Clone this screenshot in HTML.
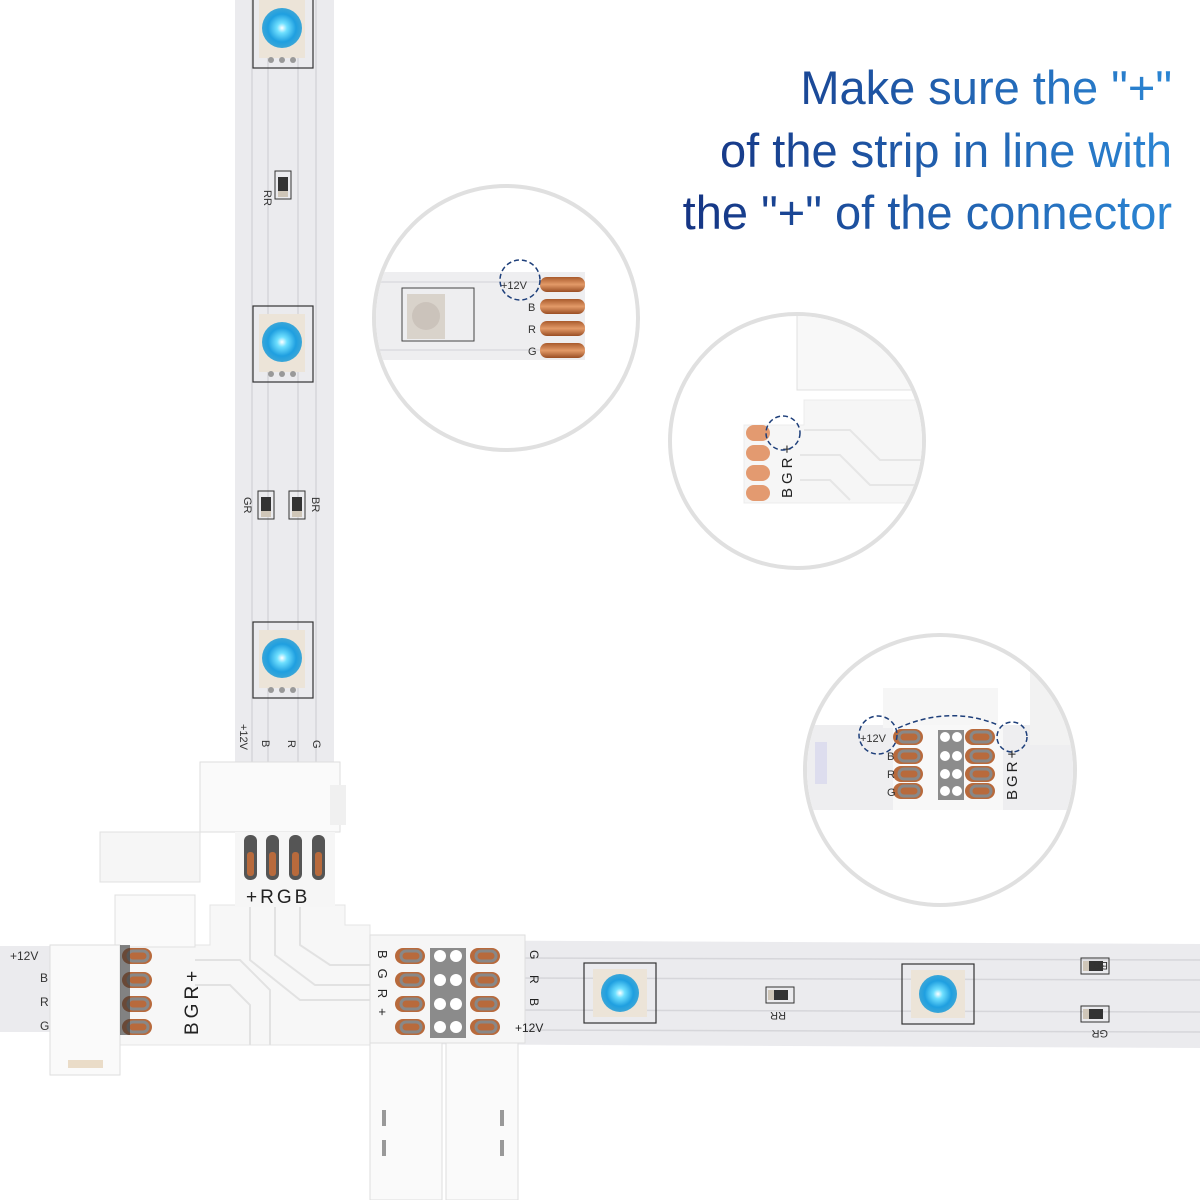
<!DOCTYPE html>
<html><head><meta charset="utf-8"><style>
html,body{margin:0;padding:0;background:#fff;width:1200px;height:1200px;overflow:hidden}
svg{display:block}
</style></head><body>
<svg width="1200" height="1200" viewBox="0 0 1200 1200" xmlns="http://www.w3.org/2000/svg" font-family="Liberation Sans, sans-serif">
<defs>
<linearGradient id="tg" x1="660" y1="0" x2="1175" y2="0" gradientUnits="userSpaceOnUse">
<stop offset="0" stop-color="#14307f"/><stop offset="1" stop-color="#2b86d4"/></linearGradient>
<radialGradient id="glow"><stop offset="0" stop-color="#ffffff"/><stop offset="0.25" stop-color="#6fe0ff"/><stop offset="0.7" stop-color="#1f9fe0"/><stop offset="1" stop-color="#3aa6d8"/></radialGradient>
<linearGradient id="cu" x1="0" y1="0" x2="0" y2="1"><stop offset="0" stop-color="#a85a2c"/><stop offset="0.5" stop-color="#e39a68"/><stop offset="1" stop-color="#9a4e24"/></linearGradient>
<g id="led">
<rect x="-30" y="-38" width="60" height="76" fill="none" stroke="#333" stroke-width="1.2"/>
<rect x="-24" y="-30" width="46" height="58" fill="#ece4d8"/>
<circle cx="-1" cy="-2" r="20" fill="url(#glow)"/>
<circle cx="-12" cy="30" r="3" fill="#999"/><circle cx="-1" cy="30" r="3" fill="#999"/><circle cx="10" cy="30" r="3" fill="#999"/>
</g>
<g id="ledh">
<rect x="-36" y="-30" width="72" height="60" fill="none" stroke="#333" stroke-width="1.2"/>
<rect x="-27" y="-24" width="54" height="48" fill="#ece4d8"/>
<circle cx="0" cy="0" r="19" fill="url(#glow)"/>
</g>
<g id="res"><rect x="-8" y="-14" width="16" height="28" fill="none" stroke="#333" stroke-width="1"/><rect x="-5" y="-8" width="10" height="16" fill="#333"/><rect x="-5" y="6" width="10" height="6" fill="#cfc6b8"/></g>
<g id="pin"><rect x="0" y="-8" width="30" height="16" rx="8" fill="#b86a3c"/><rect x="6" y="-5" width="20" height="10" rx="5" fill="none" stroke="#888" stroke-width="3"/></g>
</defs>

<!-- Vertical strip -->
<rect x="235" y="0" width="99" height="765" fill="#ebebee"/>
<g stroke="#d6d6da" stroke-width="1.5" fill="none">
<line x1="252" y1="0" x2="252" y2="765"/><line x1="268" y1="0" x2="268" y2="765"/><line x1="298" y1="0" x2="298" y2="765"/><line x1="316" y1="0" x2="316" y2="765"/>
</g>
<use href="#led" x="283" y="30"/>
<use href="#led" x="283" y="344"/>
<use href="#led" x="283" y="660"/>
<use href="#res" x="283" y="185"/>
<use href="#res" x="266" y="505"/><use href="#res" x="297" y="505"/>
<text x="0" y="0" font-size="11" fill="#333" transform="translate(264,190) rotate(90)">RR</text>
<text x="0" y="0" font-size="11" fill="#333" transform="translate(244,497) rotate(90)">GR</text>
<text x="0" y="0" font-size="11" fill="#333" transform="translate(312,497) rotate(90)">BR</text>
<g font-size="11" fill="#333">
<text transform="translate(240,724) rotate(90)">+12V</text>
<text transform="translate(262,740) rotate(90)">B</text>
<text transform="translate(288,740) rotate(90)">R</text>
<text transform="translate(313,740) rotate(90)">G</text>
</g>

<!-- Horizontal strips -->
<rect x="0" y="946" width="60" height="86" fill="#ebebee"/>
<g font-size="12" fill="#333"><text x="10" y="960">+12V</text><text x="40" y="982">B</text><text x="40" y="1006">R</text><text x="40" y="1030">G</text></g>
<polygon points="370,940 1200,944 1200,1048 370,1044" fill="#ebebee"/>
<g stroke="#d6d6da" stroke-width="1.5"><line x1="520" y1="958" x2="1200" y2="960"/><line x1="520" y1="978" x2="1200" y2="980"/><line x1="520" y1="1010" x2="1200" y2="1012"/><line x1="520" y1="1030" x2="1200" y2="1032"/></g>
<use href="#ledh" x="620" y="993"/>
<use href="#ledh" x="938" y="994"/>
<g transform="translate(780,995) rotate(90)"><use href="#res"/></g>
<g transform="translate(1095,966) rotate(90)"><use href="#res"/></g>
<g transform="translate(1095,1014) rotate(90)"><use href="#res"/></g>
<text font-size="11" fill="#333" transform="translate(786,1012) rotate(180)">RR</text>
<text font-size="11" fill="#333" transform="translate(1108,962) rotate(180)">BR</text>
<text font-size="11" fill="#333" transform="translate(1108,1030) rotate(180)">GR</text>

<!-- T connector body -->
<polygon points="210,905 345,905 345,925 370,925 370,945 370,1045 120,1045 120,945 210,945" fill="#f7f7f7" stroke="#e4e4e4"/>
<g stroke="#e2e2e2" stroke-width="2" fill="none">
<path d="M250,905 V960 L300,1000 H370"/><path d="M275,905 V955 L315,985 H370"/><path d="M300,905 V945 L330,965 H370"/>
<path d="M195,960 H240 L270,990 V1045"/><path d="M195,985 H230 L250,1005 V1045"/>
</g>
<!-- top connector housing -->
<rect x="200" y="762" width="140" height="70" fill="#fafafa" stroke="#dedede"/>
<rect x="330" y="785" width="16" height="40" fill="#f0f0f0"/>
<rect x="235" y="832" width="100" height="75" fill="#f6f6f6"/>
<g fill="#555"><rect x="244" y="835" width="13" height="45" rx="6"/><rect x="266" y="835" width="13" height="45" rx="6"/><rect x="289" y="835" width="13" height="45" rx="6"/><rect x="312" y="835" width="13" height="45" rx="6"/></g>
<g fill="#b86a3c"><rect x="247" y="852" width="7" height="24" rx="3"/><rect x="269" y="852" width="7" height="24" rx="3"/><rect x="292" y="852" width="7" height="24" rx="3"/><rect x="315" y="852" width="7" height="24" rx="3"/></g>
<text x="246" y="903" font-size="19" fill="#222" letter-spacing="3">+RGB</text>
<!-- side small piece -->
<rect x="100" y="832" width="100" height="50" fill="#f6f6f6" stroke="#e0e0e0"/>
<rect x="115" y="895" width="80" height="52" fill="#fafafa" stroke="#e0e0e0"/>
<!-- left connector -->
<rect x="50" y="945" width="70" height="130" fill="#fafafa" stroke="#dedede"/>
<rect x="68" y="1060" width="35" height="8" fill="#eadcc8"/>
<g><use href="#pin" x="122" y="956"/><use href="#pin" x="122" y="980"/><use href="#pin" x="122" y="1004"/><use href="#pin" x="122" y="1027"/></g>
<rect x="120" y="945" width="10" height="90" fill="#333" opacity="0.6"/>
<text font-size="19" fill="#222" letter-spacing="4" transform="translate(198,1035) rotate(-90)">BGR+</text>
<!-- right connector -->
<rect x="370" y="935" width="155" height="108" fill="#f6f6f6" stroke="#dedede"/>
<g><use href="#pin" x="395" y="956"/><use href="#pin" x="395" y="980"/><use href="#pin" x="395" y="1004"/><use href="#pin" x="395" y="1027"/>
<use href="#pin" x="470" y="956"/><use href="#pin" x="470" y="980"/><use href="#pin" x="470" y="1004"/><use href="#pin" x="470" y="1027"/></g>
<g fill="#333"><rect x="430" y="948" width="36" height="90" opacity="0.55"/></g>
<g fill="#fff"><circle cx="440" cy="956" r="6"/><circle cx="456" cy="956" r="6"/><circle cx="440" cy="980" r="6"/><circle cx="456" cy="980" r="6"/><circle cx="440" cy="1004" r="6"/><circle cx="456" cy="1004" r="6"/><circle cx="440" cy="1027" r="6"/><circle cx="456" cy="1027" r="6"/></g>
<text font-size="13" fill="#222" letter-spacing="10" transform="translate(378,950) rotate(90)">BGR+</text>
<text font-size="12" fill="#222" transform="translate(530,950) rotate(90)">G</text>
<text font-size="12" fill="#222" transform="translate(530,975) rotate(90)">R</text>
<text font-size="12" fill="#222" transform="translate(530,998) rotate(90)">B</text>
<text font-size="12" fill="#222" x="515" y="1032">+12V</text>
<rect x="370" y="1043" width="72" height="157" fill="#fafafa" stroke="#dedede"/>
<rect x="446" y="1043" width="72" height="157" fill="#fafafa" stroke="#dedede"/>
<g fill="#999"><rect x="382" y="1110" width="4" height="16"/><rect x="382" y="1140" width="4" height="16"/><rect x="500" y="1110" width="4" height="16"/><rect x="500" y="1140" width="4" height="16"/></g>

<!-- Title -->
<g fill="url(#tg)" font-size="47" text-anchor="end">
<text x="1172" y="104">Make sure the "+"</text>
<text x="1172" y="167">of the strip in line with</text>
<text x="1172" y="229">the "+" of the connector</text>
</g>

<!-- Circle 1 -->
<circle cx="506" cy="318" r="132" fill="#fff" stroke="#e0e0e0" stroke-width="4"/>
<clipPath id="c1"><circle cx="506" cy="318" r="130"/></clipPath>
<g clip-path="url(#c1)">
<rect x="370" y="272" width="215" height="88" fill="#eeeef0"/>
<g stroke="#dcdcdf" stroke-width="1.5"><line x1="370" y1="282" x2="540" y2="282"/><line x1="370" y1="350" x2="540" y2="350"/></g>
<rect x="402" y="288" width="72" height="53" fill="none" stroke="#444" stroke-width="1"/>
<rect x="407" y="294" width="38" height="45" fill="#d9d3cb"/>
<circle cx="426" cy="316" r="14" fill="#cbc3bb"/>
<g fill="url(#cu)"><rect x="540" y="277" width="45" height="15" rx="7"/><rect x="540" y="299" width="45" height="15" rx="7"/><rect x="540" y="321" width="45" height="15" rx="7"/><rect x="540" y="343" width="45" height="15" rx="7"/></g>
<g font-size="11" fill="#333"><text x="501" y="289">+12V</text><text x="528" y="311">B</text><text x="528" y="333">R</text><text x="528" y="355">G</text></g>
<circle cx="520" cy="280" r="20" fill="none" stroke="#1e3f7a" stroke-width="1.5" stroke-dasharray="5,3"/>
</g>

<!-- Circle 2 -->
<circle cx="797" cy="441" r="127" fill="#fff" stroke="#e0e0e0" stroke-width="4"/>
<clipPath id="c2"><circle cx="797" cy="441" r="125"/></clipPath>
<g clip-path="url(#c2)">
<rect x="797" y="310" width="140" height="80" fill="#f8f8f8" stroke="#e0e0e0"/>
<polygon points="804,400 940,400 940,503 744,503 744,425 804,425" fill="#f6f6f6" stroke="#ececec"/>
<g stroke="#e6e6e6" stroke-width="2" fill="none"><path d="M804,430 H850 L880,460 H940"/><path d="M800,455 H840 L870,485 H940"/><path d="M800,480 H830 L850,500"/></g>
<g fill="#e39a70"><rect x="746" y="425" width="24" height="16" rx="8"/><rect x="746" y="445" width="24" height="16" rx="8"/><rect x="746" y="465" width="24" height="16" rx="8"/><rect x="746" y="485" width="24" height="16" rx="8"/></g>
<text font-size="15" fill="#222" letter-spacing="4" transform="translate(792,498) rotate(-90)">BGR+</text>
<circle cx="783" cy="433" r="17" fill="none" stroke="#1e3f7a" stroke-width="1.5" stroke-dasharray="5,3"/>
</g>

<!-- Circle 3 -->
<circle cx="940" cy="770" r="135" fill="#fff" stroke="#e0e0e0" stroke-width="4"/>
<clipPath id="c3"><circle cx="940" cy="770" r="133"/></clipPath>
<g clip-path="url(#c3)">
<rect x="800" y="725" width="280" height="85" fill="#eeeef0"/>
<rect x="1030" y="655" width="60" height="90" fill="#f2f2f2"/>
<rect x="883" y="688" width="65" height="40" fill="#f6f6f6"/><rect x="948" y="688" width="50" height="40" fill="#f6f6f6"/>
<rect x="893" y="725" width="110" height="85" fill="#f8f8f8"/>
<rect x="815" y="742" width="12" height="42" fill="#dde"/>
<g><use href="#pin" x="893" y="737"/><use href="#pin" x="893" y="756"/><use href="#pin" x="893" y="774"/><use href="#pin" x="893" y="791"/>
<use href="#pin" x="965" y="737"/><use href="#pin" x="965" y="756"/><use href="#pin" x="965" y="774"/><use href="#pin" x="965" y="791"/></g>
<rect x="938" y="730" width="26" height="70" fill="#444" opacity="0.6"/>
<g fill="#fff"><circle cx="945" cy="737" r="5"/><circle cx="957" cy="737" r="5"/><circle cx="945" cy="756" r="5"/><circle cx="957" cy="756" r="5"/><circle cx="945" cy="774" r="5"/><circle cx="957" cy="774" r="5"/><circle cx="945" cy="791" r="5"/><circle cx="957" cy="791" r="5"/></g>
<g font-size="11" fill="#333"><text x="860" y="742">+12V</text><text x="887" y="760">B</text><text x="887" y="778">R</text><text x="887" y="796">G</text></g>
<text font-size="15" fill="#222" letter-spacing="3" transform="translate(1017,800) rotate(-90)">BGR+</text>
<circle cx="878" cy="735" r="19" fill="none" stroke="#1e3f7a" stroke-width="1.5" stroke-dasharray="5,3"/>
<circle cx="1012" cy="737" r="15" fill="none" stroke="#1e3f7a" stroke-width="1.5" stroke-dasharray="5,3"/>
<path d="M898,728 Q950,705 998,725" fill="none" stroke="#1e3f7a" stroke-width="1.5" stroke-dasharray="5,3"/>
</g>
</svg>
</body></html>
